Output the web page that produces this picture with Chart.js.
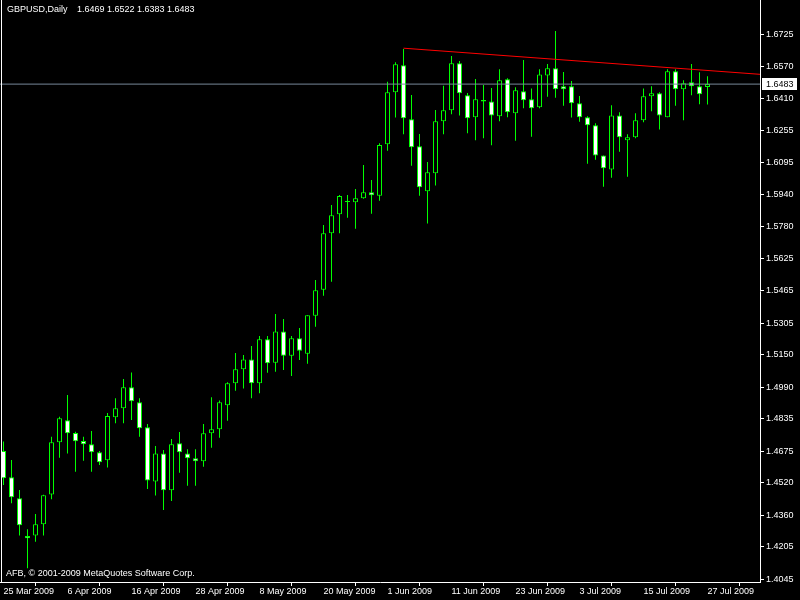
<!DOCTYPE html>
<html>
<head>
<meta charset="utf-8">
<title>GBPUSD,Daily</title>
<script src="https://cdn.jsdelivr.net/npm/chart.js@4.4.1/dist/chart.umd.min.js"></script>
<style>
	html, body { margin: 0; padding: 0; background: #000; }
	#wrap { width: 800px; height: 600px; }
</style>
</head>
<body>
<div id="wrap"><canvas id="chart" width="800" height="600"></canvas></div>
<script>
// ——— Data (25 Mar – 27 Jul 2009) ———
var symbolTitle = 'GBPUSD,Daily';
var copyright = 'AFB, \u00a9 2001-2009 MetaQuotes Software Corp.';

var opens = [
	1.4676, 1.4546, 1.4443, 1.4257, 1.4259, 1.4315, 1.4462, 1.4719, 1.4827, 1.4764,
	1.4725, 1.4709, 1.4669, 1.4630, 1.4842, 1.4886, 1.4990, 1.4916, 1.4793, 1.4525,
	1.4664, 1.4482, 1.4714, 1.4664, 1.4640, 1.4625, 1.4763, 1.4783, 1.4901, 1.5009,
	1.5078, 1.5127, 1.5009, 1.5226, 1.5111, 1.5265, 1.5145, 1.5231, 1.5155, 1.5342,
	1.5470, 1.5748, 1.5842, 1.5902, 1.5901, 1.5921, 1.5950, 1.5933, 1.6187, 1.6443,
	1.6576, 1.6310, 1.6177, 1.5955, 1.6044, 1.6300, 1.6354, 1.6586, 1.6428, 1.6320,
	1.6405, 1.6398, 1.6325, 1.6507, 1.6339, 1.6448, 1.6408, 1.6369, 1.6526, 1.6561,
	1.6472, 1.6472, 1.6389, 1.6320, 1.6280, 1.6132, 1.6063, 1.6329, 1.6206, 1.6221,
	1.6305, 1.6423, 1.6438, 1.6320, 1.6546, 1.6458, 1.6492, 1.6472, 1.6469
];
var highs = [
	1.4722, 1.4631, 1.4484, 1.4290, 1.4365, 1.4460, 1.4746, 1.4845, 1.4952, 1.4771,
	1.4746, 1.4774, 1.4676, 1.4863, 1.4935, 1.5030, 1.5063, 1.4935, 1.4809, 1.4700,
	1.4681, 1.4735, 1.4769, 1.4684, 1.4684, 1.4809, 1.4940, 1.4925, 1.5014, 1.5159,
	1.5149, 1.5193, 1.5242, 1.5242, 1.5351, 1.5326, 1.5242, 1.5282, 1.5344, 1.5518,
	1.5789, 1.5888, 1.5937, 1.5937, 1.5966, 1.6085, 1.6011, 1.6192, 1.6495, 1.6591,
	1.6656, 1.6429, 1.6237, 1.6099, 1.6356, 1.6475, 1.6622, 1.6597, 1.6439, 1.6508,
	1.6479, 1.6464, 1.6556, 1.6512, 1.6467, 1.6602, 1.6462, 1.6556, 1.6582, 1.6745,
	1.6543, 1.6498, 1.6425, 1.6325, 1.6290, 1.6132, 1.6379, 1.6344, 1.6236, 1.6339,
	1.6462, 1.6472, 1.6443, 1.6556, 1.6556, 1.6502, 1.6582, 1.6541, 1.6522
];
var lows = [
	1.4508, 1.4418, 1.4259, 1.4098, 1.4229, 1.4259, 1.4438, 1.4643, 1.4664, 1.4574,
	1.4628, 1.4574, 1.4607, 1.4594, 1.4812, 1.4812, 1.4828, 1.4746, 1.4489, 1.4456,
	1.4385, 1.4429, 1.4569, 1.4505, 1.4505, 1.4598, 1.4692, 1.4741, 1.4825, 1.4973,
	1.4983, 1.4935, 1.4960, 1.5061, 1.5066, 1.5075, 1.5045, 1.5124, 1.5106, 1.5288,
	1.5441, 1.5510, 1.5748, 1.5825, 1.5771, 1.5918, 1.5845, 1.5909, 1.6155, 1.6318,
	1.6236, 1.6081, 1.5933, 1.5797, 1.5983, 1.6236, 1.6334, 1.6329, 1.6241, 1.6206,
	1.6216, 1.6182, 1.6300, 1.6320, 1.6204, 1.6364, 1.6224, 1.6364, 1.6421, 1.6416,
	1.6377, 1.6318, 1.6298, 1.6091, 1.6111, 1.5978, 1.6022, 1.6150, 1.6027, 1.6216,
	1.6295, 1.6349, 1.6260, 1.6320, 1.6377, 1.6305, 1.6428, 1.6384, 1.6383
];
var closes = [
	1.4541, 1.4448, 1.4310, 1.4246, 1.4315, 1.4458, 1.4719, 1.4837, 1.4763, 1.4724,
	1.4709, 1.4669, 1.4620, 1.4848, 1.4886, 1.4990, 1.4921, 1.4788, 1.4531, 1.4664,
	1.4482, 1.4709, 1.4669, 1.4640, 1.4625, 1.4763, 1.4783, 1.4916, 1.5009, 1.5078,
	1.5127, 1.5009, 1.5226, 1.5108, 1.5265, 1.5145, 1.5231, 1.5170, 1.5344, 1.5467,
	1.5748, 1.5837, 1.5932, 1.5907, 1.5921, 1.5950, 1.5935, 1.6183, 1.6443, 1.6581,
	1.6315, 1.6172, 1.5975, 1.6049, 1.6300, 1.6354, 1.6586, 1.6438, 1.6315, 1.6408,
	1.6398, 1.6329, 1.6502, 1.6344, 1.6453, 1.6403, 1.6364, 1.6531, 1.6561, 1.6458,
	1.6458, 1.6389, 1.6320, 1.6280, 1.6132, 1.6068, 1.6329, 1.6221, 1.6221, 1.6305,
	1.6423, 1.6438, 1.6329, 1.6546, 1.6458, 1.6487, 1.6472, 1.6433, 1.6483
];

// date labels sit on every 8th bar
var dateTickBars = [0, 8, 16, 24, 32, 40, 48, 56, 64, 72, 80, 88];
var dateTickLabels = [
	'25 Mar 2009', '6 Apr 2009', '16 Apr 2009', '28 Apr 2009', '8 May 2009', '20 May 2009',
	'1 Jun 2009', '11 Jun 2009', '23 Jun 2009', '3 Jul 2009', '15 Jul 2009', '27 Jul 2009'
];
var priceTicks = [
	1.6725, 1.6570, 1.6410, 1.6255, 1.6095, 1.5940, 1.5780, 1.5625, 1.5465,
	1.5305, 1.5150, 1.4990, 1.4835, 1.4675, 1.4520, 1.4360, 1.4205, 1.4045
];

// resistance trendline (bar index, price)
var trendBars = [50, 95];
var trendPrices = [1.6660, 1.6530];

(function () {
	'use strict';

	var last = closes.length - 1;
	var bidPrice = closes[last];

	var wickData = [];
	var bodyData = [];
	var bodyFill = [];
	for (var i = 0; i < closes.length; i++) {
		wickData.push({ x: i, y: [lows[i], highs[i]] });
		bodyData.push({ x: i, y: [opens[i], closes[i]] });
		bodyFill.push(closes[i] >= opens[i] ? '#000000' : '#ffffff');
	}
	var bidLine = [{ x: -1, y: bidPrice }, { x: 96, y: bidPrice }];
	var trendLine = trendBars.map(function (b, k) { return { x: b, y: trendPrices[k] }; });

	var FONT = '"Liberation Sans", Arial, sans-serif';
	Chart.defaults.font.family = FONT;
	Chart.defaults.font.size = 9;

	// MT4 axes hug the plot: drop the label overhang padding Chart.js asks for
	function noPadding(s) {
		s.paddingTop = 0;
		s.paddingBottom = 0;
		s.paddingLeft = 0;
		s.paddingRight = 0;
	}

	var mt4Plugin = {
		id: 'mt4Frame',
		beforeDraw: function (chart) {
			var ctx = chart.ctx;
			ctx.save();
			ctx.fillStyle = '#000';
			ctx.fillRect(0, 0, chart.width, chart.height);
			ctx.restore();
		},
		afterDraw: function (chart) {
			var ctx = chart.ctx;
			var area = chart.chartArea;
			var yScale = chart.scales.y;
			ctx.save();
			ctx.fillStyle = '#fff';
			ctx.fillRect(area.left + 1, area.top, 1, area.bottom - area.top);
			ctx.font = '9px ' + FONT;
			ctx.textBaseline = 'middle';
			ctx.textAlign = 'left';
			ctx.fillText(symbolTitle, 7, 10);
			ctx.fillText([opens[last], highs[last], lows[last], closes[last]].map(function (v) {
				return v.toFixed(4);
			}).join(' '), 77, 10);
			ctx.fillText(copyright, 6, 574);
			// bid price box on the axis
			var py = Math.round(yScale.getPixelForValue(bidPrice));
			ctx.fillRect(area.right + 2, py - 6, 35, 12);
			ctx.fillStyle = '#000';
			ctx.fillText(bidPrice.toFixed(4), area.right + 6, py + 0.5);
			ctx.restore();
		}
	};

	new Chart(document.getElementById('chart').getContext('2d'), {
		type: 'bar',
		data: {
			datasets: [
				{
					type: 'line',
					data: trendLine,
					borderColor: '#ff0000',
					borderWidth: 1,
					pointRadius: 0,
					order: 0
				},
				{
					type: 'line',
					data: bidLine,
					borderColor: '#778899',
					borderWidth: 1,
					pointRadius: 0,
					order: 1
				},
				{
					type: 'bar',
					data: bodyData,
					backgroundColor: bodyFill,
					borderColor: '#00ff00',
					borderWidth: 1,
					borderSkipped: false,
					inflateAmount: 0,
					barThickness: 5,
					grouped: false,
					order: 2
				},
				{
					type: 'bar',
					data: wickData,
					backgroundColor: '#00ff00',
					borderWidth: 0,
					inflateAmount: 0,
					barThickness: 1,
					grouped: false,
					order: 3
				}
			]
		},
		options: {
			responsive: false,
			animation: false,
			events: [],
			layout: { padding: 0 },
			plugins: { legend: { display: false }, tooltip: { enabled: false } },
			scales: {
				x: {
					type: 'linear',
					min: -0.4375,
					max: 94.5625,
					offset: false,
					afterFit: function (s) { s.height = 18; noPadding(s); },
					afterBuildTicks: function (s) {
						s.ticks = dateTickBars.map(function (v) { return { value: v }; });
					},
					grid: { drawOnChartArea: false, drawTicks: true, tickLength: 4, color: '#ffffff' },
					border: { display: true, color: '#ffffff' },
					ticks: {
						color: '#ffffff',
						autoSkip: false,
						maxRotation: 0,
						minRotation: 0,
						align: 'start',
						padding: 0,
						callback: function (v, idx) { return dateTickLabels[idx]; }
					}
				},
				y: {
					position: 'right',
					min: 1.40304,
					max: 1.68974,
					afterFit: function (s) { s.width = 40; noPadding(s); },
					afterBuildTicks: function (s) {
						s.ticks = priceTicks.map(function (v) { return { value: v }; });
					},
					grid: { drawOnChartArea: false, drawTicks: true, tickLength: 4, color: '#ffffff' },
					border: { display: true, color: '#ffffff' },
					ticks: {
						color: '#ffffff',
						autoSkip: false,
						padding: 2,
						callback: function (v) { return Number(v).toFixed(4); }
					}
				}
			}
		},
		plugins: [mt4Plugin]
	});
})();
</script>
</body>
</html>
